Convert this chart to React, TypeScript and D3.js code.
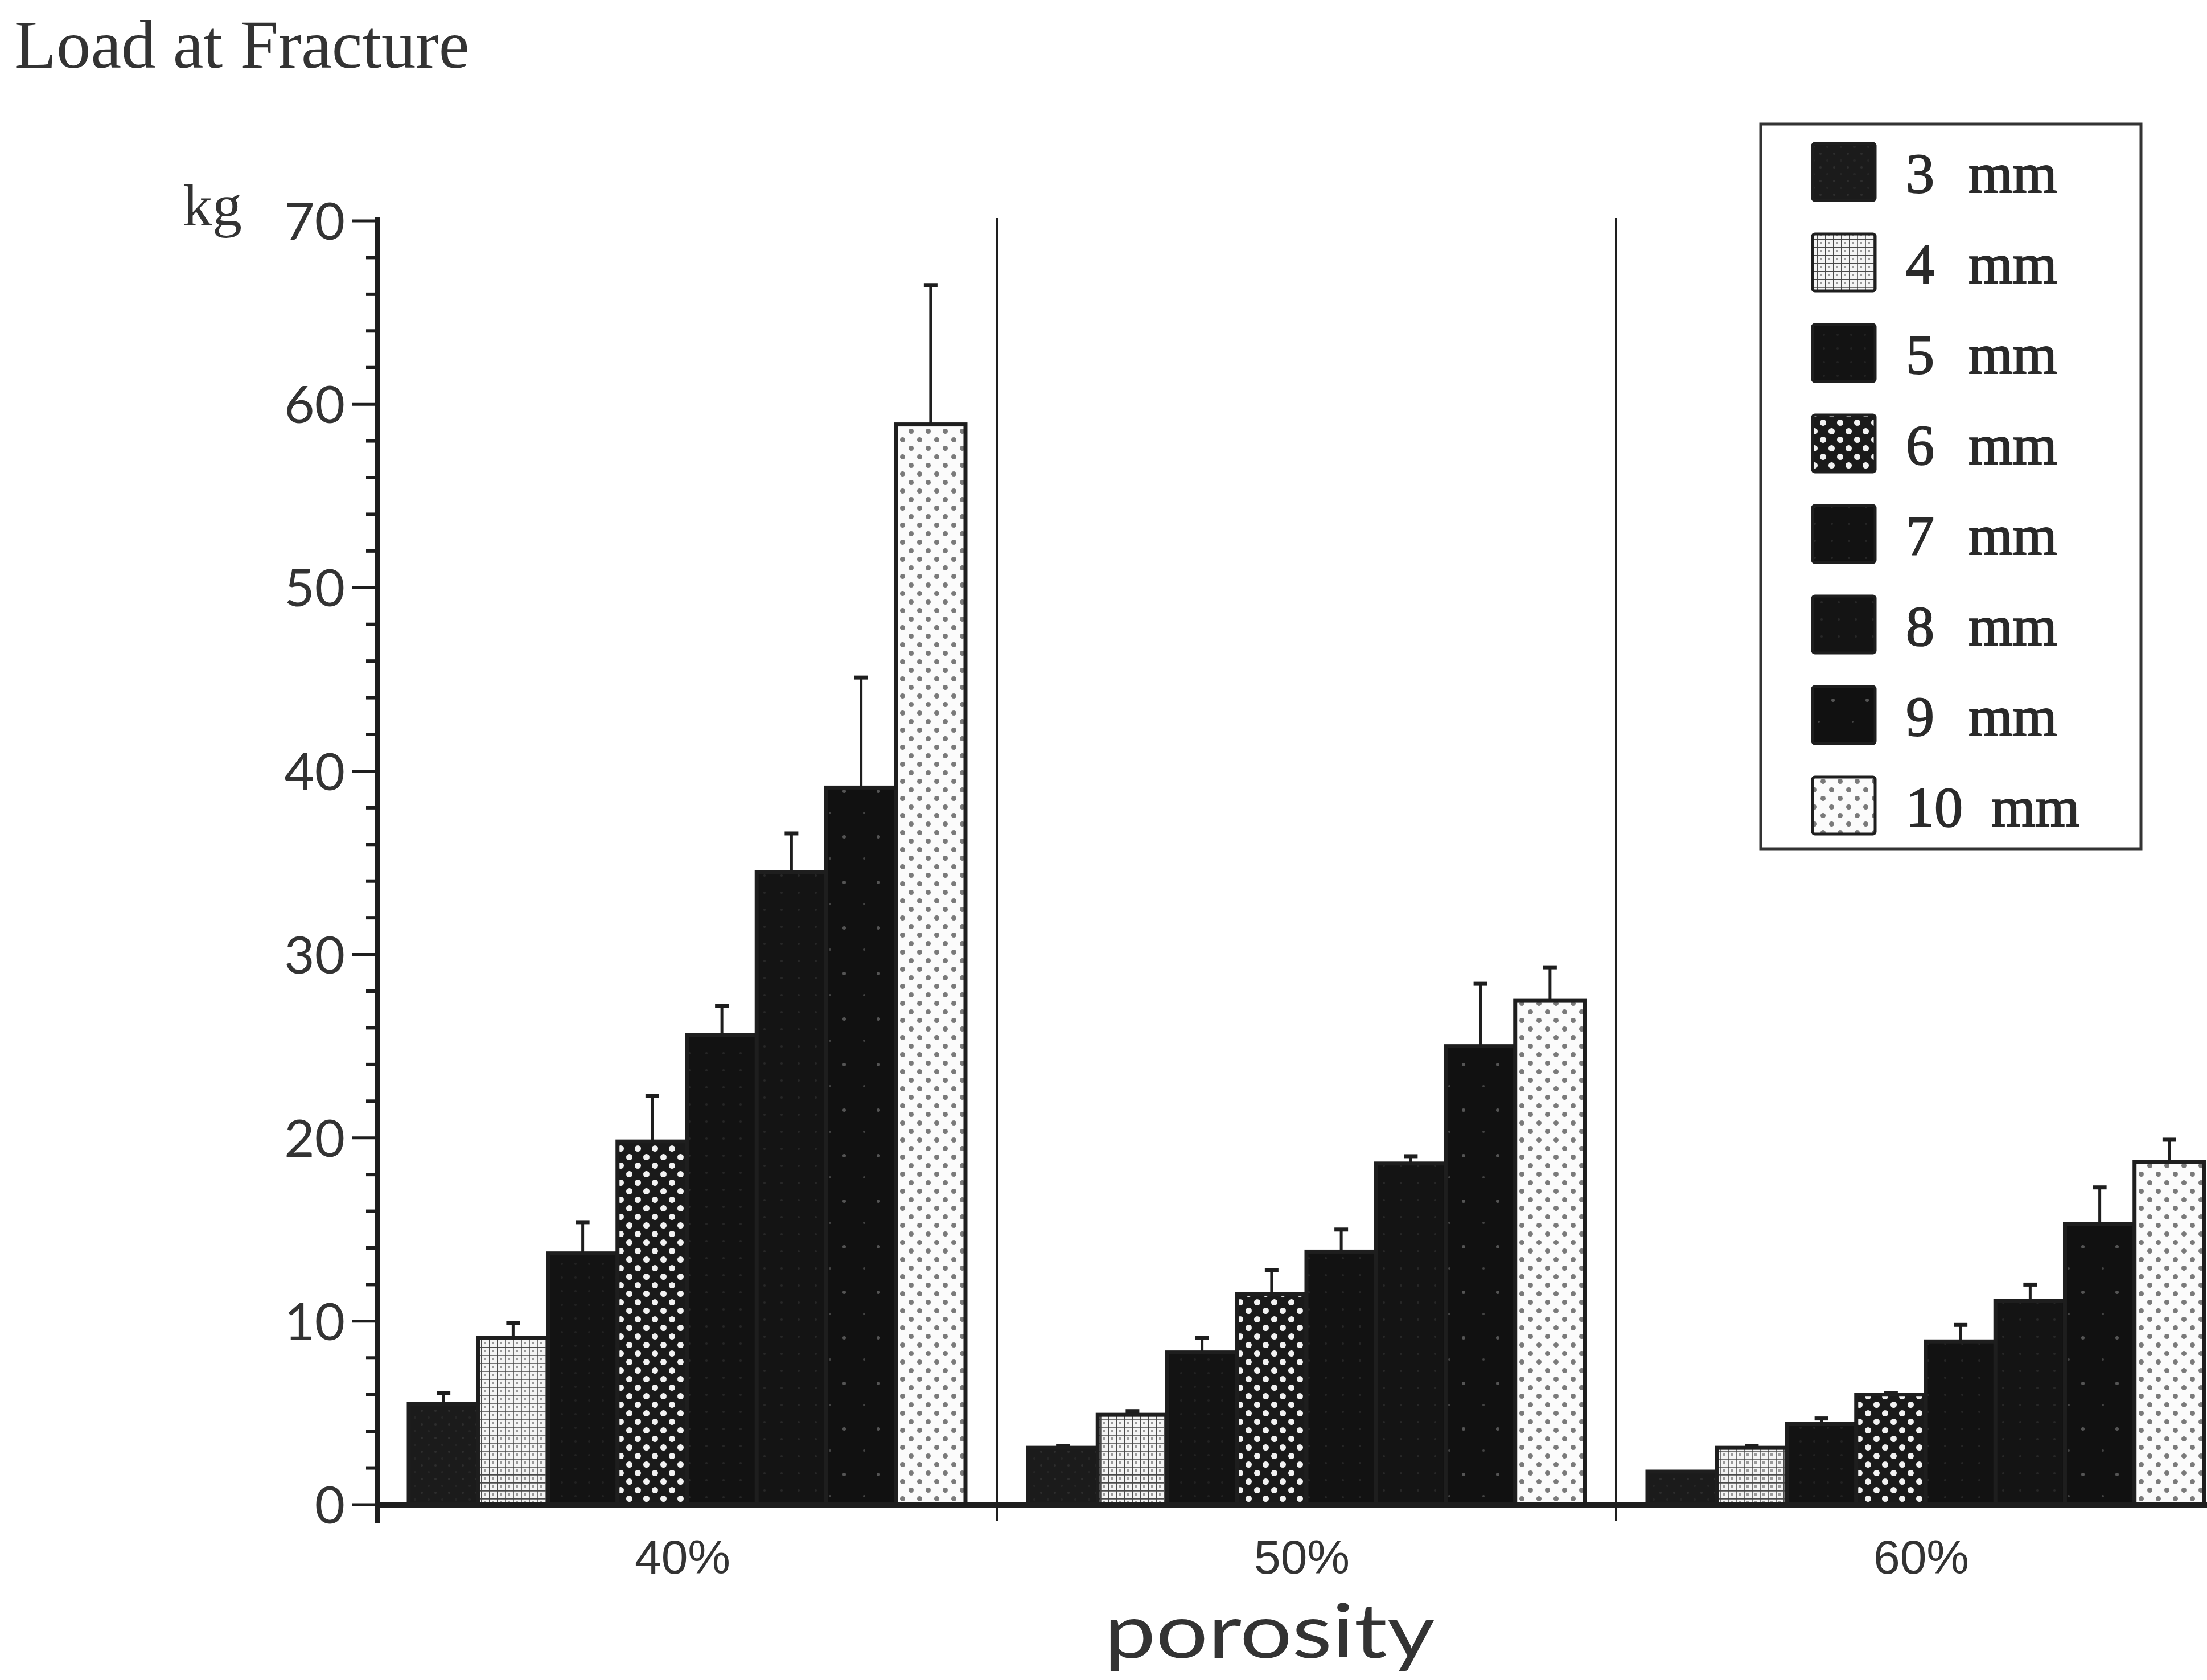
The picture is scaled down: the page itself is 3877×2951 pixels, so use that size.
import React from "react";
import * as d3 from "d3";

const groups = ["40%", "50%", "60%"];
const sizes = ["3 mm", "4 mm", "5 mm", "6 mm", "7 mm", "8 mm", "9 mm", "10 mm"];

// mean load at fracture (kg), one array per porosity group, in order of sizes
const load40 = [5.5, 9.1, 13.7, 19.8, 25.6, 34.5, 39.1, 58.9];
const load50 = [3.1, 4.9, 8.3, 11.5, 13.8, 18.6, 25.0, 27.5];
const load60 = [1.8, 3.1, 4.4, 6.0, 8.9, 11.1, 15.3, 18.7];

// top of error bar (kg)
const err40 = [6.1, 9.9, 15.4, 22.3, 27.2, 36.6, 45.1, 66.5];
const err50 = [3.2, 5.1, 9.1, 12.8, 15.0, 19.0, 28.4, 29.3];
const err60 = [1.8, 3.2, 4.7, 6.1, 9.8, 12.0, 17.3, 19.9];

const yTicks = [0, 10, 20, 30, 40, 50, 60, 70];

const W = 3877;
const H = 2951;
const ink = "#1e1e1e";

const fills = [
  "url(#p3)",
  "url(#p4)",
  "url(#p5)",
  "url(#p6)",
  "url(#p7)",
  "url(#p8)",
  "url(#p9)",
  "url(#p10)",
];

const App: React.FC = () => {
  const loads = [load40, load50, load60];
  const errs = [err40, err50, err60];

  const x0 = d3.scaleBand<string>().domain(groups).range([663, 663 + 3 * 1088]).padding(0);
  const x1 = d3
    .scaleBand<string>()
    .domain(sizes)
    .range([0, x0.bandwidth()])
    .paddingInner(0)
    .paddingOuter(0.45);
  const y = d3.scaleLinear().domain([0, 70]).range([2643, 388]);

  const minor = d3.range(0, 71, 2);
  const axisX = x0.range()[0];
  const legendX = 3093;
  const legendY = 218;
  const rowH = 159;

  return (
    <svg
      width={W}
      height={H}
      viewBox={`0 0 ${W} ${H}`}
      style={{ position: "absolute", left: 0, top: 0, background: "#fff" }}
    >
      <defs>
        <pattern id="p3" width="24" height="24" patternUnits="userSpaceOnUse">
          <rect width="24" height="24" fill="#1b1b1b" />
          <circle cx="6" cy="6" r="2" fill="#2e2e2e" />
          <circle cx="18" cy="18" r="2" fill="#262626" />
        </pattern>
        <pattern id="p4" width="14" height="14" patternUnits="userSpaceOnUse">
          <rect width="14" height="14" fill="#f4f4f4" />
          <path d="M0 0.5H14M0.5 0V14" stroke="#4a4a4a" strokeWidth="2.5" />
          <rect x="5" y="5" width="4" height="4" fill="#9a9a9a" />
        </pattern>
        <pattern id="p5" width="24" height="24" patternUnits="userSpaceOnUse">
          <rect width="24" height="24" fill="#131313" />
          <circle cx="12" cy="12" r="2" fill="#222" />
        </pattern>
        <pattern id="p6" width="30" height="30" patternUnits="userSpaceOnUse">
          <rect width="30" height="30" fill="#1a1a1a" />
          <circle cx="7.5" cy="7.5" r="5.5" fill="#f2f2f2" />
          <circle cx="22.5" cy="22.5" r="5.5" fill="#f2f2f2" />
        </pattern>
        <pattern id="p7" width="30" height="30" patternUnits="userSpaceOnUse">
          <rect width="30" height="30" fill="#121212" />
          <circle cx="8" cy="20" r="2" fill="#262626" />
        </pattern>
        <pattern id="p8" width="30" height="30" patternUnits="userSpaceOnUse">
          <rect width="30" height="30" fill="#141414" />
          <circle cx="20" cy="8" r="2" fill="#282828" />
        </pattern>
        <pattern id="p9" width="60" height="80" patternUnits="userSpaceOnUse">
          <rect width="60" height="80" fill="#111" />
          <circle cx="40" cy="30" r="3" fill="#555" />
          <circle cx="15" cy="68" r="2" fill="#444" />
        </pattern>
        <pattern id="p10" width="30" height="30" patternUnits="userSpaceOnUse">
          <rect width="30" height="30" fill="#fbfbfb" />
          <circle cx="7.5" cy="7.5" r="4.5" fill="#7a7a7a" />
          <circle cx="22.5" cy="22.5" r="4.5" fill="#7a7a7a" />
        </pattern>
        <clipPath id="plot">
          <rect x="0" y="0" width={W} height={H} />
        </clipPath>
      </defs>

      <text
        x={25}
        y={119}
        fontFamily="Liberation Serif, serif"
        fontSize={121}
        fill="#333"
      >
        Load at Fracture
      </text>

      <g clipPath="url(#plot)">
        {groups.map((g, gi) => (
          <g key={g} transform={`translate(${x0(g)},0)`}>
            {sizes.map((s, si) => {
              const v = loads[gi][si];
              const e = errs[gi][si];
              const bx = x1(s) as number;
              const bw = x1.bandwidth();
              const cx = bx + bw / 2;
              return (
                <g key={s}>
                  {e > v && (
                    <g stroke={ink} strokeWidth={5}>
                      <line x1={cx} x2={cx} y1={y(v)} y2={y(e)} />
                      <line x1={cx - 12} x2={cx + 12} y1={y(e)} y2={y(e)} strokeWidth={7} />
                    </g>
                  )}
                  <rect
                    x={bx}
                    y={y(v)}
                    width={bw}
                    height={y(0) - y(v)}
                    fill={fills[si]}
                    stroke={ink}
                    strokeWidth={7}
                  />
                </g>
              );
            })}
          </g>
        ))}

        {/* group separators */}
        {groups.slice(1).map((g) => (
          <line
            key={g}
            x1={x0(g)}
            x2={x0(g)}
            y1={383}
            y2={2672}
            stroke={ink}
            strokeWidth={4}
          />
        ))}

        {/* x axis */}
        <line x1={axisX} x2={W} y1={y(0)} y2={y(0)} stroke={ink} strokeWidth={10} />
      </g>

      {/* y axis */}
      <line x1={axisX} x2={axisX} y1={y(70) - 6} y2={2675} stroke={ink} strokeWidth={10} />
      {minor.map((t) => (
        <line
          key={t}
          x1={axisX - (t % 10 === 0 ? 44 : 20)}
          x2={axisX}
          y1={y(t)}
          y2={y(t)}
          stroke={ink}
          strokeWidth={t % 10 === 0 ? 5 : 6}
        />
      ))}
      {yTicks.map((t) => (
        <text
          key={t}
          x={606}
          y={y(t)}
          dy="0.36em"
          textAnchor="end"
          fontFamily="Lato, Open Sans, sans-serif"
          fontSize={92}
          fill="#333"
        >
          {t}
        </text>
      ))}
      <text x={321} y={396} fontFamily="Liberation Serif, serif" fontSize={104} fill="#333">
        kg
      </text>

      {groups.map((g) => (
        <text
          key={g}
          x={(x0(g) as number) + x0.bandwidth() / 2 - 8}
          y={2764}
          textAnchor="middle"
          fontFamily="Liberation Sans Narrow, Liberation Sans, sans-serif"
          fontSize={84}
          fill="#333"
        >
          {g}
        </text>
      ))}
      <text
        x={2230}
        y={2912}
        textAnchor="middle"
        fontFamily="Lato, Open Sans, sans-serif"
        fontSize={132}
        fill="#333"
        textLength={581}
        lengthAdjust="spacingAndGlyphs"
      >
        porosity
      </text>

      {/* legend */}
      <rect
        x={legendX}
        y={legendY}
        width={668}
        height={1273}
        fill="#fff"
        stroke="#333"
        strokeWidth={5}
      />
      {sizes.map((s, i) => {
        const cy = 302 + i * rowH;
        const [num, unit] = s.split(" ");
        return (
          <g key={s}>
            <rect
              x={3184}
              y={cy - 50}
              width={110}
              height={100}
              fill={fills[i]}
              stroke={ink}
              strokeWidth={5}
              rx={4}
            />
            <text
              x={3348}
              y={cy}
              dy="0.36em"
              fontFamily="Liberation Serif, serif"
              fontSize={100}
              fill="#2a2a2a"
              stroke="#2a2a2a"
              strokeWidth={2}
            >
              {num}
              <tspan dx={num.length > 1 ? 50 : 60}>{unit}</tspan>
            </text>
          </g>
        );
      })}
    </svg>
  );
};

export default App;
